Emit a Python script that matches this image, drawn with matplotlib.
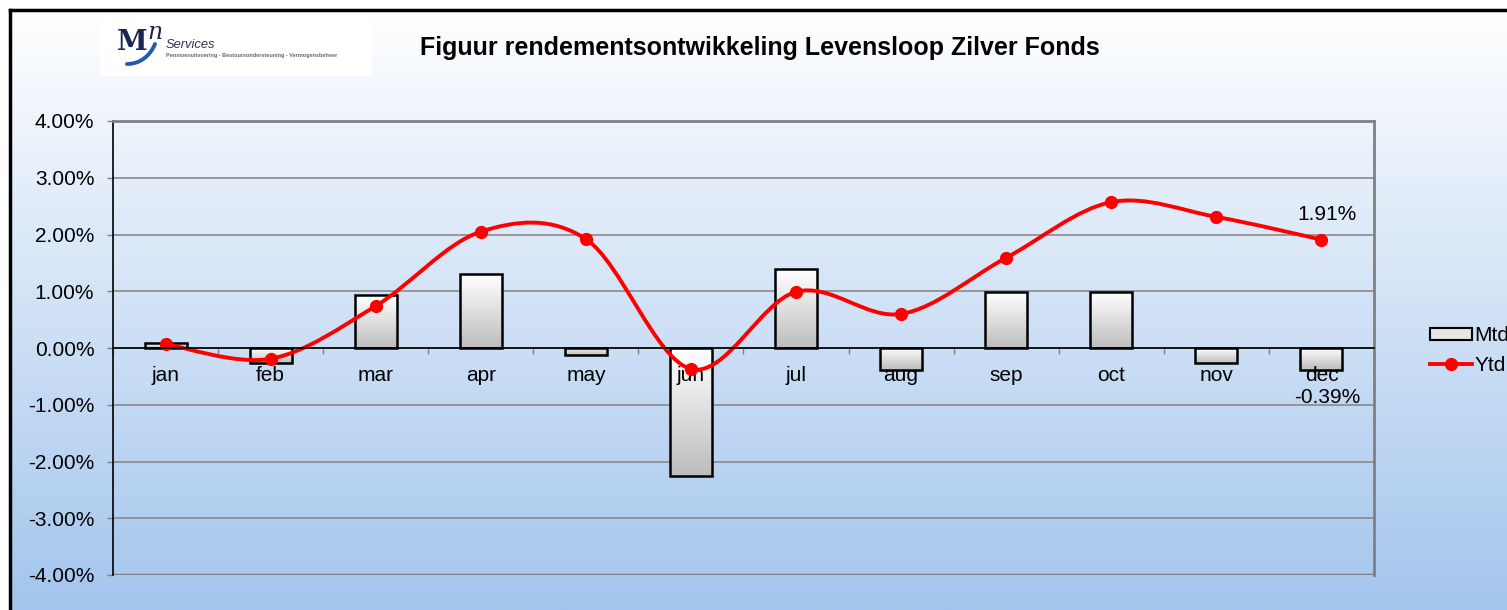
import numpy as np
import matplotlib
matplotlib.use("Agg")
import matplotlib.pyplot as plt
from matplotlib.path import Path
from matplotlib.patches import PathPatch, Patch, Rectangle
from matplotlib.lines import Line2D
from matplotlib.ticker import FuncFormatter

plt.rcParams["font.family"] = ["Liberation Sans", "DejaVu Sans"]

# Données (en %)
months = ["jan", "feb", "mar", "apr", "may", "jun",
          "jul", "aug", "sep", "oct", "nov", "dec"]
mtd = [0.08, -0.26, 0.93, 1.30, -0.13, -2.26, 1.39, -0.39, 0.98, 0.98, -0.26, -0.39]
ytd = [0.07, -0.19, 0.74, 2.05, 1.92, -0.37, 0.99, 0.60, 1.59, 2.57, 2.31, 1.91]
yticks = [-4, -3, -2, -1, 0, 1, 2, 3, 4]

W, H = 1507, 610
FS = 15
fig = plt.figure(figsize=(W / 100, H / 100), dpi=100)
fig.patch.set_facecolor("white")

# fond dégradé blanc -> bleu clair
bg = fig.add_axes([10 / W, 0, 1 - 10 / W, 1 - 10 / H], zorder=-5)
grad = np.linspace(0, 1, 256)[:, None]
top_c = np.array([1.0, 1.0, 1.0])
bot_c = np.array([163, 197, 237]) / 255
img = top_c[None, None, :] * (1 - grad[..., None]) + bot_c[None, None, :] * grad[..., None]
bg.imshow(img, aspect="auto", extent=(0, 1, 0, 1), origin="upper")
bg.axis("off")

# cadre noir (haut + gauche)
fig.add_artist(Line2D([10 / W, 1], [1 - 10 / H] * 2, color="black", lw=2.5, transform=fig.transFigure))
fig.add_artist(Line2D([10 / W] * 2, [0, 1 - 10 / H], color="black", lw=2.5, transform=fig.transFigure))

ax = fig.add_axes([113 / W, 35 / H, (1374 - 113) / W, (575 - 121) / H])
ax.set_facecolor("none")
x = np.arange(len(months))
ax.set_xlim(-0.5, len(months) - 0.5)
ax.set_ylim(-4, 4)

# quadrillage
for v in yticks:
    ax.axhline(v, color="#8a8a8a", lw=1.2, zorder=1)

# barres Mtd avec dégradé
bars = ax.bar(x, mtd, width=0.4, facecolor="none", edgecolor="black", lw=1.8, zorder=4)
bar_grad = np.linspace(1.0, 0.74, 128)[:, None]
for rect in bars:
    x0, w = rect.get_x(), rect.get_width()
    y0, h = rect.get_y(), rect.get_height()
    lo, hi = min(y0, y0 + h), max(y0, y0 + h)
    im = ax.imshow(bar_grad, cmap="gray", vmin=0, vmax=1, aspect="auto",
                   extent=(x0, x0 + w, lo, hi), origin="upper", zorder=3)
    im.set_clip_path(rect)

# ligne Ytd lissée (Catmull-Rom -> Bézier)
pts = np.column_stack([x, ytd]).astype(float)
verts = [pts[0]]
codes = [Path.MOVETO]
for i in range(len(pts) - 1):
    p0 = pts[i - 1] if i > 0 else pts[i]
    p1, p2 = pts[i], pts[i + 1]
    p3 = pts[i + 2] if i + 2 < len(pts) else pts[i + 1]
    verts += [p1 + (p2 - p0) / 6, p2 - (p3 - p1) / 6, p2]
    codes += [Path.CURVE4] * 3
ax.add_patch(PathPatch(Path(verts, codes), facecolor="none", edgecolor="#ff0000",
                       lw=2.8, zorder=6, capstyle="round"))
ax.plot(x, ytd, linestyle="none", marker="o", ms=8.5, color="#ff0000", zorder=7)

# axes
ax.set_ylim(-4, 4)
ax.set_xlim(-0.5, len(months) - 0.5)
for s in ["top", "right"]:
    ax.spines[s].set_color("#808080")
    ax.spines[s].set_linewidth(2)
ax.spines["left"].set_color("black")
ax.spines["left"].set_linewidth(1.2)
ax.spines["bottom"].set_position(("data", 0))
ax.spines["bottom"].set_color("black")
ax.spines["bottom"].set_linewidth(1.2)
ax.spines["bottom"].set_zorder(8)
ax.axhline(-4, color="#808080", lw=2.5, zorder=2)

ax.set_yticks(yticks)
ax.yaxis.set_major_formatter(FuncFormatter(lambda v, p: f"{v:.2f}%"))
ax.tick_params(axis="y", direction="out", length=4.5, width=1, color="#808080",
               pad=9, labelsize=FS)
ax.set_xticks(np.arange(len(months) + 1) - 0.5)
ax.set_xticklabels([])
ax.tick_params(axis="x", which="major", direction="out", length=4, width=1, color="#808080")

# libellés des mois au-dessus des barres (comme dans Excel)
for xi, m in zip(x, months):
    ax.annotate(m, (xi, 0), xytext=(0, -23.5), textcoords="offset points",
                ha="center", va="baseline", fontsize=FS, zorder=5)

# étiquettes de décembre
ax.annotate(f"{ytd[-1]:.2f}%", (x[-1], ytd[-1]), xytext=(4, 18), textcoords="offset points",
            ha="center", va="center", fontsize=FS)
ax.annotate(f"{mtd[-1]:.2f}%", (x[-1], mtd[-1]), xytext=(4, -19.5), textcoords="offset points",
            ha="center", va="center", fontsize=FS)

# légende
handles = [Patch(facecolor="#e6e6e6", edgecolor="black", lw=1.5),
           Line2D([], [], color="#ff0000", lw=2.8, marker="o", ms=8.5)]
fig.legend(handles, ["Mtd", "Ytd"], loc="upper left", bbox_to_anchor=(1420 / W, 1 - 316 / H),
           frameon=False, fontsize=FS, handlelength=2.0, handleheight=0.5,
           handletextpad=0.1, labelspacing=0.5, borderpad=0)

# titre
fig.text(760 / W, 1 - 48 / H, "Figuur rendementsontwikkeling Levensloop Zilver Fonds",
         ha="center", va="center", fontsize=18, fontweight="bold")

# logo
lg = fig.add_axes([100 / W, 1 - 76 / H, 272 / W, 56 / H])
lg.set_xlim(0, 272)
lg.set_ylim(56, 0)
lg.set_facecolor("white")
for s in lg.spines.values():
    s.set_visible(False)
lg.set_xticks([])
lg.set_yticks([])
lg.text(17, 30, "M", fontsize=20, fontweight="bold", family="DejaVu Serif",
        color="#1c2550", va="baseline")
lg.text(47, 19, "n", fontsize=17, style="italic", family="DejaVu Serif",
        color="#1c2550", va="baseline")
sw = Path([(27, 44), (40, 44), (50, 36), (55, 24)],
          [Path.MOVETO, Path.CURVE4, Path.CURVE4, Path.CURVE4])
lg.add_patch(PathPatch(sw, facecolor="none", edgecolor="#2459b0", lw=2.8, capstyle="round"))
lg.text(66, 28, "Services", fontsize=9.3, style="italic", color="#333348", va="baseline")
lg.text(66, 37, "Pensioenuitvoering - Bestuursondersteuning - Vermogensbeheer",
        fontsize=4.0, fontweight="bold", color="#6a6a6a", va="baseline")

fig.savefig("out.png", dpi=100)
